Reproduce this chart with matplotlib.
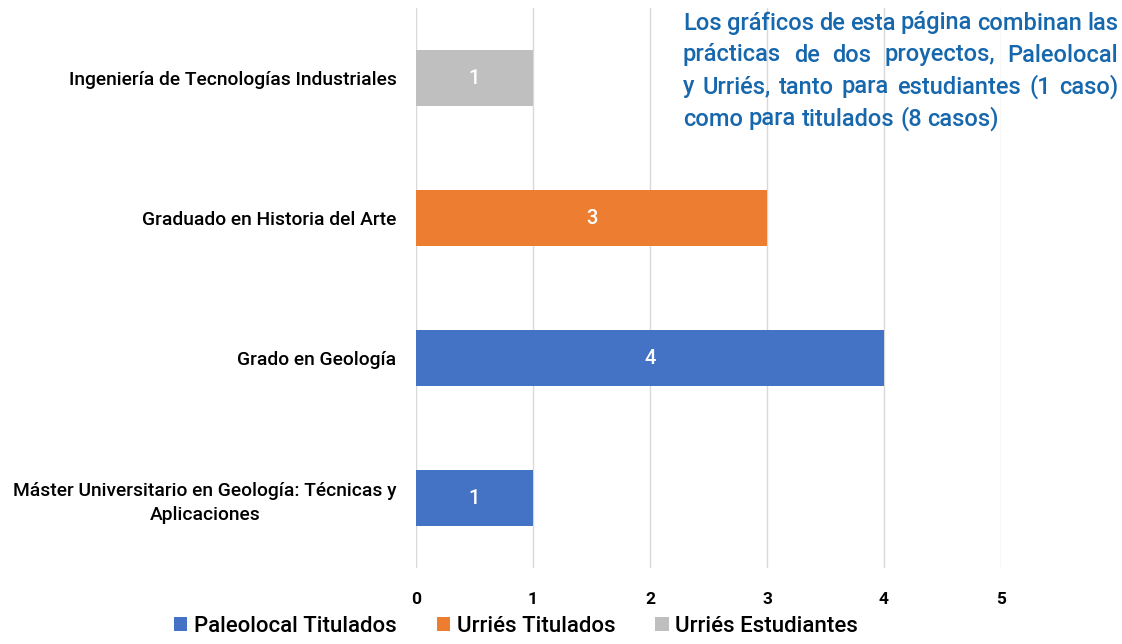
import matplotlib.pyplot as plt
import numpy as np

plt.rcParams['font.family'] = ['Roboto', 'DejaVu Sans']

# Categories from bottom to top
categories = ['Máster Universitario en Geología: Técnicas y\nAplicaciones',
              'Grado en Geología',
              'Graduado en Historia del Arte',
              'Ingeniería de Tecnologías Industriales']
paleolocal_titulados = [1, 4, 0, 0]
urries_titulados = [0, 0, 3, 0]
urries_estudiantes = [0, 0, 0, 1]

series = [('Paleolocal Titulados', paleolocal_titulados, '#4472C4'),
          ('Urriés Titulados', urries_titulados, '#ED7D31'),
          ('Urriés Estudiantes', urries_estudiantes, '#BFBFBF')]

fig = plt.figure(figsize=(11.22, 6.44), dpi=100)
ax = fig.add_axes([416 / 1122, 1 - 568 / 644, 585 / 1122, 560 / 644])

y = np.arange(len(categories))
left = np.zeros(len(categories))
for name, vals, color in series:
    vals = np.array(vals, dtype=float)
    bars = ax.barh(y, vals, left=left, height=0.40, color=color, label=name, zorder=2)
    for b, v in zip(bars, vals):
        if v > 0:
            ax.text(b.get_x() + b.get_width() / 2, b.get_y() + b.get_height() / 2,
                    f'{v:g}', ha='center', va='center', color='white',
                    fontsize=14.5, fontweight='medium')
    left += vals

ax.set_xlim(0, 5)
ax.set_ylim(-0.5, 3.5)
ax.set_xticks(range(6))
ax.set_yticks(y)
ax.set_yticklabels(categories, fontsize=13.9, fontweight='medium',
                   ha='right', multialignment='center', linespacing=1.4)
ax.tick_params(axis='y', length=0, pad=14)
ax.tick_params(axis='x', length=0, pad=17, labelsize=12.5)
for lbl in ax.get_xticklabels():
    lbl.set_fontweight('bold')
ax.grid(axis='x', color='#D9D9D9', linewidth=1, zorder=0)
for s in ax.spines.values():
    s.set_visible(False)

# Note, justified over four lines
lines = [['Los', 'gráficos', 'de', 'esta', 'página', 'combinan', 'las'],
         ['prácticas', 'de', 'dos', 'proyectos,', 'Paleolocal'],
         ['y', 'Urriés,', 'tanto', 'para', 'estudiantes', '(1', 'caso)'],
         ['como', 'para', 'titulados', '(8', 'casos)']]
x0, x1 = 683, 1118
fig.canvas.draw()
renderer = fig.canvas.get_renderer()
for i, words in enumerate(lines):
    ypix = 23 + i * 32
    texts = [fig.text(0, 1 - ypix / 644, w, fontsize=17, color='#1767AD',
                      fontweight='medium', va='center') for w in words]
    widths = [t.get_window_extent(renderer).width for t in texts]
    if i < len(lines) - 1:
        gap = (x1 - x0 - sum(widths)) / (len(words) - 1)
    else:
        gap = texts[0].get_window_extent(renderer).height * 0.25
    x = x0
    for t, w in zip(texts, widths):
        t.set_x(x / 1122)
        x += w + gap

fig.legend(loc='lower center', bbox_to_anchor=(0.46, -0.02), ncol=3, frameon=False,
           prop={'size': 16, 'weight': 'medium'}, handlelength=0.6, handleheight=0.6,
           handletextpad=0.3, columnspacing=1.8)

fig.savefig('out.png', dpi=100)
